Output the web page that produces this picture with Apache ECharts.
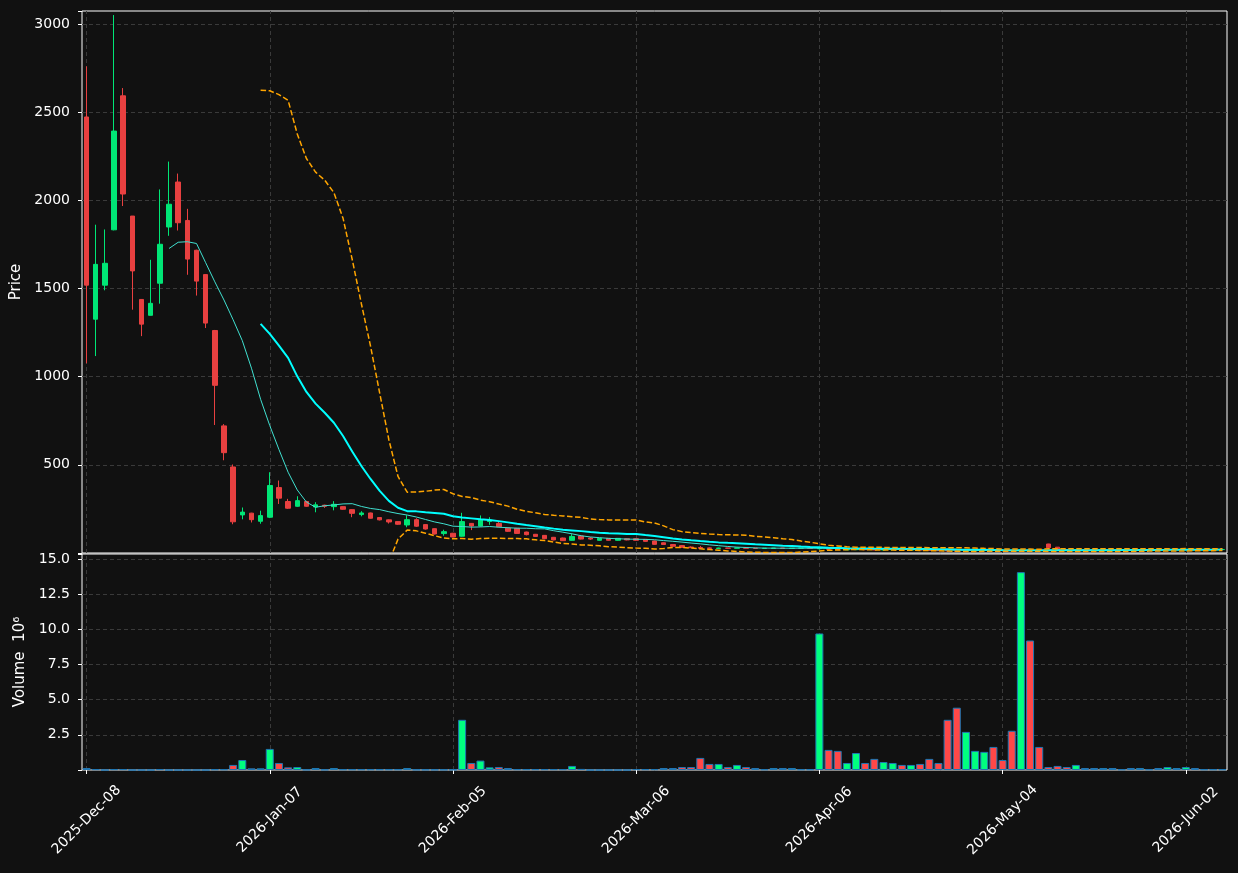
<!DOCTYPE html>
<html>
<head>
    <meta charset="utf-8">
    <title>Price / Volume</title>
    <script src="https://cdn.jsdelivr.net/npm/echarts@6/dist/echarts.min.js"></script>
    <style>
        html, body { margin: 0; padding: 0; height: 100%; overflow: hidden; background: #111111; }
        #main { width: 1238px; height: 873px; }
    </style>
</head>
<body>
    <div id="main"></div>
    <script>
        // trading calendar (US sessions)
        const firstDay = '2025-12-08';
        const numDays = 125;
        const holidays = ['2025-12-25', '2026-01-01', '2026-01-19', '2026-02-16', '2026-04-03', '2026-05-25'];
        const monthNames = ['Jan', 'Feb', 'Mar', 'Apr', 'May', 'Jun', 'Jul', 'Aug', 'Sep', 'Oct', 'Nov', 'Dec'];

        // OHLC
        const opens = [
            2473, 1326, 1519, 1833, 2593, 1911, 1438, 1348, 1530, 1849,
            2104, 1886, 1717, 1579, 1262, 721, 488, 216, 226, 180,
            203, 371, 292, 265, 292, 261, 271, 263, 263, 246,
            218, 227, 201, 188, 178, 159, 189, 161, 138, 110,
            112, 95, 168, 153, 179, 168, 141, 140, 119, 106,
            100, 89, 85, 72, 96, 85, 72, 83, 72, 81,
            81, 77, 68, 58, 48, 42, 34, 31, 29, 26,
            28, 27, 29, 27, 26, 26, 28, 26, 27, 27,
            24, 26, 22, 18, 19, 22, 20, 17, 18, 20,
            17, 19, 18, 15, 14, 12, 10, 13, 14, 17,
            15, 15, 13, 17, 16, 51, 33, 18, 17, 19,
            18.5, 17.5, 19, 18, 18.5, 17.5, 19, 19.5, 18.5, 19.5,
            20, 20.5, 19.5, 20, 19.5
        ];
        const highs = [
            2760, 1862, 1835, 3051, 2637, 1911, 1440, 1663, 2062, 2220,
            2152, 1952, 1720, 1582, 1265, 731, 502, 258, 228, 240,
            458, 411, 307, 322, 296, 288, 274, 294, 265, 248,
            237, 229, 203, 190, 180, 214, 197, 163, 140, 132,
            114, 228, 170, 213, 203, 180, 143, 142, 121, 108,
            102, 91, 87, 107, 98, 90, 85, 85, 85, 83,
            83, 79, 70, 60, 50, 44, 38, 40, 31, 30,
            29, 30, 30, 28, 28, 29, 29, 28, 28, 28,
            30, 27, 23, 22, 23, 23, 21, 20, 21, 21,
            20, 20, 19, 16, 15, 13, 14, 16, 18, 18,
            16, 16, 19, 18, 17, 52, 34, 19, 20, 20,
            19, 20, 20, 19, 19, 20, 20, 20, 20, 20.5,
            21, 21, 21, 21, 20.5
        ];
        const lows = [
            1076, 1117, 1490, 1830, 1968, 1380, 1230, 1348, 1414, 1799,
            1829, 1578, 1460, 1276, 726, 526, 163, 191, 173, 166,
            198, 278, 250, 262, 262, 231, 256, 242, 245, 203,
            208, 195, 185, 167, 160, 146, 148, 133, 105, 98,
            89, 92, 130, 150, 160, 146, 120, 109, 100, 92,
            79, 72, 68, 70, 77, 74, 70, 70, 70, 72,
            70, 64, 47, 46, 36, 30, 28, 25, 24, 25,
            25, 26, 26, 25, 25, 25, 25, 25, 26, 25,
            20, 19, 17, 17, 18, 18, 16, 16, 17, 17,
            16, 16, 14, 12, 10, 9, 9, 12, 13, 14,
            13, 12, 12, 14, 14, 29, 15, 16, 16, 17,
            17, 17, 17, 17, 17, 17, 17, 18, 18, 18,
            19, 19, 19, 19, 19
        ];
        const closes = [
            1519, 1637, 1643, 2393, 2036, 1600, 1298, 1416, 1751, 1978,
            1873, 1667, 1542, 1304, 951, 569, 177, 232, 189, 212,
            383, 311, 254, 297, 265, 273, 265, 276, 248, 225,
            227, 197, 188, 176, 163, 189, 152, 136, 108, 121,
            91, 178, 153, 187, 187, 149, 123, 111, 104, 94,
            81, 74, 70, 94, 79, 79, 83, 72, 83, 74,
            72, 66, 49, 48, 38, 32, 30, 27, 26, 28,
            27, 29, 27, 26, 27, 28, 26, 27, 27.5, 26,
            27, 21, 19, 20, 22, 19, 17, 19, 20, 18,
            19, 17, 15, 13, 11, 10, 13, 15, 17, 15,
            14, 13, 17, 15, 15, 30, 16, 17, 19, 18,
            17, 19, 18, 18.5, 17.5, 19, 19.5, 18.5, 19.5, 20,
            20.5, 19.5, 20, 19.5, 20
        ];
        // volume in millions
        const volumes = [
            0.14, 0.06, 0, 0.06, 0.06, 0, 0, 0, 0.06, 0,
            0, 0, 0, 0, 0.05, 0.05, 0.36, 0.71, 0.12, 0.12,
            1.50, 0.50, 0.19, 0.21, 0.03, 0.14, 0.03, 0.14, 0.05, 0.05,
            0.05, 0.05, 0.05, 0.05, 0.05, 0.14, 0.03, 0.03, 0.03, 0.03,
            0.03, 3.57, 0.50, 0.67, 0.19, 0.21, 0.14, 0.06, 0.06, 0.06,
            0.06, 0.06, 0.06, 0.29, 0.08, 0, 0, 0, 0, 0,
            0.06, 0.06, 0.06, 0.14, 0.14, 0.21, 0.21, 0.86, 0.43, 0.43,
            0.21, 0.36, 0.21, 0.14, 0.05, 0.14, 0.14, 0.14, 0.05, 0.05,
            9.71, 1.43, 1.36, 0.50, 1.21, 0.50, 0.79, 0.57, 0.50, 0.36,
            0.36, 0.43, 0.79, 0.50, 3.57, 4.43, 2.71, 1.36, 1.29, 1.64,
            0.71, 2.79, 14.07, 9.21, 1.64, 0.21, 0.29, 0.21, 0.36, 0.14,
            0.14, 0.14, 0.14, 0.05, 0.14, 0.14, 0.05, 0.14, 0.21, 0.14,
            0.21, 0.14, 0.05, 0.05, 0.05
        ];
        const labelEvery = 20;

        const upColor = '#00e676', downColor = '#e84040';
        const volUp = '#00ff7f', volDown = '#ff4848';
        const gridLine = { color: '#3a3a3a', type: [4, 3], width: 1 };

        function tradingDays(start, count) {
            const out = [];
            const d = new Date(start + 'T12:00:00Z');
            while (out.length < count) {
                const iso = d.toISOString().slice(0, 10);
                const wd = d.getUTCDay();
                if (wd !== 0 && wd !== 6 && !holidays.includes(iso)) {
                    out.push(iso.slice(0, 4) + '-' + monthNames[d.getUTCMonth()] + '-' + iso.slice(8, 10));
                }
                d.setUTCDate(d.getUTCDate() + 1);
            }
            return out;
        }
        const dates = tradingDays(firstDay, numDays);

        // moving averages / 20-bar 2-sigma bands of the closes
        function sma(arr, n) {
            return arr.map((_, i) => {
                if (i < n - 1) return '-';
                let s = 0;
                for (let k = i - n + 1; k <= i; k++) s += arr[k];
                return s / n;
            });
        }
        function band(arr, n, mult) {
            const mid = sma(arr, n);
            return arr.map((_, i) => {
                if (i < n - 1) return '-';
                let v = 0;
                for (let k = i - n + 1; k <= i; k++) v += (arr[k] - mid[i]) ** 2;
                return mid[i] + mult * Math.sqrt(v / n);
            });
        }
        const ma10 = sma(closes, 10);
        const ma20 = sma(closes, 20);
        const upper = band(closes, 20, 2);
        const lower = band(closes, 20, -2);

        const candles = dates.map((_, i) => [opens[i], closes[i], lows[i], highs[i]]);
        const volBars = volumes.map((v, i) => ({
            value: v,
            itemStyle: { color: closes[i] >= opens[i] ? volUp : volDown }
        }));

        const tickIdx = [];
        for (let i = 0; i < numDays; i += labelEvery) tickIdx.push(i);
        // vertical grid lines through the bar centres, kept behind the marks
        const vGrid = gridIdx => ({
            type: 'line', xAxisIndex: gridIdx, yAxisIndex: gridIdx, data: [], z: 0,
            markLine: {
                z: 1, silent: true, symbol: ['none', 'none'], animation: false,
                label: { show: false },
                lineStyle: gridLine,
                data: tickIdx.map(i => ({ xAxis: dates[i] }))
            }
        });

        const valueSplit = { show: true, showMinLine: false, showMaxLine: false, lineStyle: gridLine };

        const chart = echarts.init(document.getElementById('main'));
        chart.setOption({
            backgroundColor: '#111111',
            animation: false,
            textStyle: { fontFamily: 'DejaVu Sans', color: '#ffffff' },
            grid: [
                { left: 82, right: 11, top: 11, height: 542, show: true, borderColor: '#ffffff', borderWidth: 1 },
                { left: 82, right: 11, top: 554, height: 216, show: true, borderColor: '#ffffff', borderWidth: 1 }
            ],
            xAxis: [
                {
                    type: 'category', gridIndex: 0, data: dates, boundaryGap: true,
                    axisLine: { show: false }, axisTick: { show: false },
                    axisLabel: { show: false }, splitLine: { show: false }
                },
                {
                    type: 'category', gridIndex: 1, data: dates, boundaryGap: true,
                    axisLine: { show: false },
                    axisTick: { show: true, interval: labelEvery - 1, alignWithLabel: true, length: 4, lineStyle: { color: '#ffffff' } },
                    axisLabel: {
                        interval: labelEvery - 1, rotate: 45, color: '#ffffff', fontSize: 14,
                        align: 'center', verticalAlign: 'middle', margin: 50
                    },
                    splitLine: { show: false }
                }
            ],
            yAxis: [
                {
                    type: 'value', gridIndex: 0, min: 0, max: 3074, interval: 500,
                    name: 'Price', nameLocation: 'middle', nameGap: 52,
                    nameTextStyle: { color: '#ffffff', fontSize: 15 },
                    axisLine: { show: false },
                    axisTick: { show: true, length: 4, lineStyle: { color: '#ffffff' } },
                    axisLabel: {
                        color: '#ffffff', fontSize: 14, margin: 12,
                        formatter: v => (v > 0 && v % 500 === 0) ? String(v) : ''
                    },
                    splitLine: valueSplit
                },
                {
                    type: 'value', gridIndex: 1, min: 0, max: 15.36, interval: 2.5,
                    name: 'Volume  10\u2076', nameLocation: 'middle', nameGap: 52,
                    nameTextStyle: { color: '#ffffff', fontSize: 15 },
                    axisLine: { show: false },
                    axisTick: { show: true, length: 4, lineStyle: { color: '#ffffff' } },
                    axisLabel: {
                        color: '#ffffff', fontSize: 14, margin: 12,
                        formatter: v => (v > 0 && Math.abs(v / 2.5 - Math.round(v / 2.5)) < 1e-6) ? v.toFixed(1) : ''
                    },
                    splitLine: valueSplit
                }
            ],
            series: [
                vGrid(0),
                vGrid(1),
                {
                    name: 'OHLC', type: 'candlestick', xAxisIndex: 0, yAxisIndex: 0,
                    barWidth: 5,
                    itemStyle: { color: upColor, color0: downColor, borderColor: upColor, borderColor0: downColor, borderWidth: 1 },
                    data: candles
                },
                {
                    name: 'MA10', type: 'line', xAxisIndex: 0, yAxisIndex: 0, data: ma10,
                    showSymbol: false, lineStyle: { color: '#40e0d0', width: 1 }
                },
                {
                    name: 'MA20', type: 'line', xAxisIndex: 0, yAxisIndex: 0, data: ma20,
                    showSymbol: false, lineStyle: { color: '#00ffff', width: 2 }
                },
                {
                    name: 'Upper', type: 'line', xAxisIndex: 0, yAxisIndex: 0, data: upper,
                    showSymbol: false, lineStyle: { color: '#ffa500', width: 1.5, type: [5.5, 2.5] }
                },
                {
                    name: 'Lower', type: 'line', xAxisIndex: 0, yAxisIndex: 0, data: lower,
                    showSymbol: false, lineStyle: { color: '#ffa500', width: 1.5, type: [5.5, 2.5] }
                },
                {
                    name: 'Volume', type: 'bar', xAxisIndex: 1, yAxisIndex: 1, data: volBars,
                    barWidth: 8,
                    itemStyle: { borderColor: '#1f77b4', borderWidth: 1 }
                }
            ]
        });
    </script>
</body>
</html>
